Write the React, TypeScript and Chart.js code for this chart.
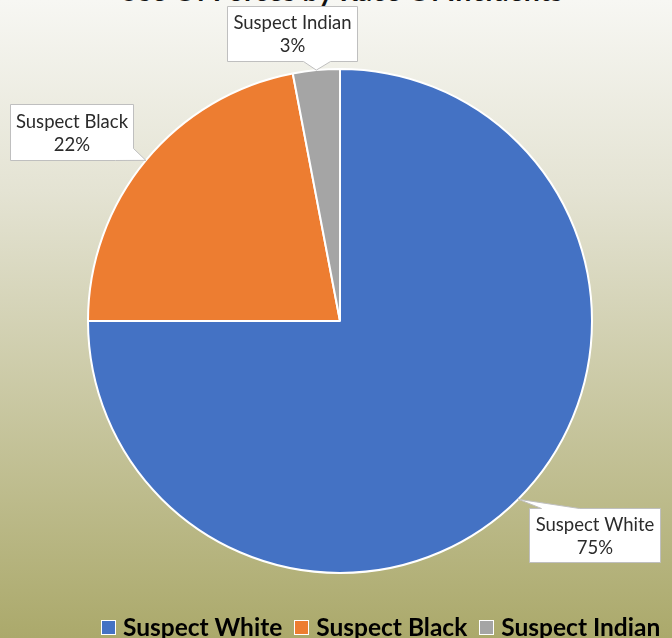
import React, { useEffect, useRef } from "react";
import { Chart, registerables } from "chart.js";

Chart.register(...registerables);

const TITLE = "Use Of Forces by Race Of Incidents";
const categories = ["Suspect White", "Suspect Black", "Suspect Indian"];
const values = [75, 22, 3];
const colors = ["#4472C4", "#ED7D31", "#A5A5A5"];

// Callout boxes, placed relative to the point on the slice rim at its middle angle
type Tail = { edge: "top" | "bottom" | "corner-br"; a: number; b: number };
const callouts: { dx: number; dy: number; w: number; h: number; tail: Tail }[] = [
  { dx: 11, dy: 9, w: 131, h: 54, tail: { edge: "top", a: 12, b: 50 } },
  { dx: -136, dy: -56, w: 123, h: 56, tail: { edge: "corner-br", a: 12, b: 18 } },
  { dx: -89, dy: -64, w: 130, h: 55, tail: { edge: "bottom", a: 76, b: 103 } },
];

const LABEL_FONT = "18.5px Lato";

const calloutPlugin = {
  id: "calloutLabels",
  afterDatasetsDraw(chart: any) {
    const ctx: CanvasRenderingContext2D = chart.ctx;
    const meta = chart.getDatasetMeta(0);
    const total = values.reduce((s, v) => s + v, 0);
    meta.data.forEach((arc: any, i: number) => {
      const c = callouts[i];
      if (!c) return;
      const mid = (arc.startAngle + arc.endAngle) / 2;
      const tip: [number, number] = [
        arc.x + arc.outerRadius * Math.cos(mid),
        arc.y + arc.outerRadius * Math.sin(mid),
      ];
      const x = Math.round(tip[0] + c.dx) + 0.5;
      const y = Math.round(tip[1] + c.dy) + 0.5;
      const { w, h, tail } = c;
      const pts: [number, number][] = [];
      pts.push([x, y]);
      if (tail.edge === "top") pts.push([x + tail.a, y], tip, [x + tail.b, y]);
      pts.push([x + w, y]);
      if (tail.edge === "corner-br") {
        pts.push([x + w, y + h - tail.a], tip, [x + w - tail.b, y + h]);
      } else {
        pts.push([x + w, y + h]);
        if (tail.edge === "bottom") pts.push([x + tail.b, y + h], tip, [x + tail.a, y + h]);
      }
      pts.push([x, y + h]);
      ctx.save();
      ctx.beginPath();
      pts.forEach((p, k) => (k === 0 ? ctx.moveTo(p[0], p[1]) : ctx.lineTo(p[0], p[1])));
      ctx.closePath();
      ctx.fillStyle = "#ffffff";
      ctx.fill();
      ctx.strokeStyle = "#bfbfbf";
      ctx.lineWidth = 1;
      ctx.stroke();
      ctx.fillStyle = "#2b2b2b";
      ctx.font = LABEL_FONT;
      ctx.textAlign = "center";
      ctx.textBaseline = "alphabetic";
      const cx = x + w / 2;
      const pct = Math.round((values[i] / total) * 100) + "%";
      ctx.fillText(categories[i], cx, y + h / 2 - 5);
      ctx.fillText(pct, cx, y + h / 2 + 18);
      ctx.restore();
    });
  },
};

export default function App() {
  const ref = useRef<HTMLCanvasElement>(null);
  useEffect(() => {
    if (!ref.current) return;
    const chart = new Chart(ref.current, {
      type: "pie",
      data: {
        labels: categories,
        datasets: [
          {
            data: values,
            backgroundColor: colors,
            borderColor: "#ffffff",
            borderWidth: 2,
          },
        ],
      },
      options: {
        responsive: false,
        animation: false,
        layout: { padding: { left: 87, right: 79, top: 68, bottom: 64 } },
        plugins: {
          legend: { display: false },
          tooltip: { enabled: false },
          title: { display: false },
        },
      },
      plugins: [calloutPlugin],
    });
    return () => chart.destroy();
  }, []);

  return (
    <div
      style={{
        position: "fixed",
        left: 0,
        top: 0,
        width: 672,
        height: 638,
        overflow: "hidden",
        background: "linear-gradient(to bottom, #f7f7f3 0%, #e4e3d3 30%, #aba96b 100%)",
      }}
    >
      <div
        style={{
          position: "absolute",
          left: 0,
          top: -24,
          width: 681,
          textAlign: "center",
          font: "bold 28.5px Lato",
          lineHeight: "28px",
          color: "#111",
          whiteSpace: "nowrap",
        }}
      >
        {TITLE}
      </div>
      <canvas ref={ref} width={672} height={638} style={{ position: "absolute", left: 0, top: 0 }} />
      <div
        style={{
          position: "absolute",
          left: 101,
          top: 615,
          display: "flex",
          alignItems: "center",
          font: "bold 24.5px Lato",
          lineHeight: "24px",
          color: "#000",
          whiteSpace: "nowrap",
        }}
      >
        {categories.map((c, i) => (
          <div key={c} style={{ display: "flex", alignItems: "center", marginRight: 12 }}>
            <span
              style={{
                display: "inline-block",
                width: 13,
                height: 13,
                background: colors[i],
                border: "1.5px solid #ffffff",
                marginRight: 7,
              }}
            />
            <span>{c}</span>
          </div>
        ))}
      </div>
    </div>
  );
}
